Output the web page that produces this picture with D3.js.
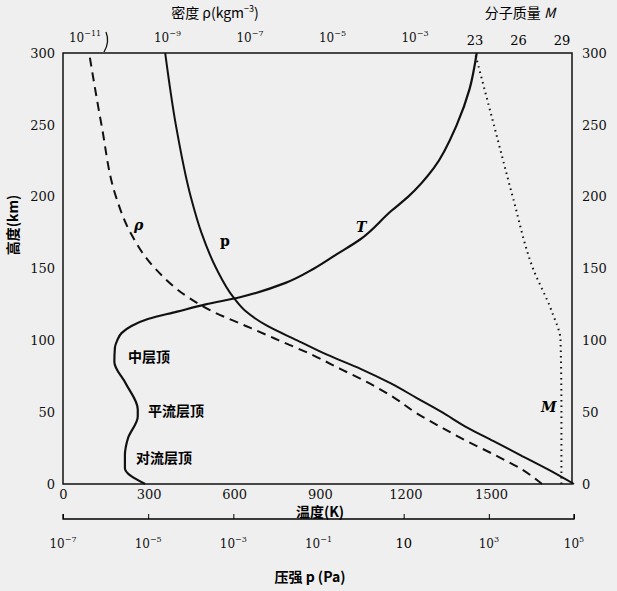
<!DOCTYPE html>
<html><head><meta charset="utf-8">
<script src="https://cdn.jsdelivr.net/npm/d3@7"></script>
<style>body{margin:0;background:#efefef}svg{font-family:"DejaVu Serif","Liberation Serif",serif}</style>
</head><body><svg id="c" width="617" height="591"></svg>
<script>
const altTicks=[0,50,100,150,200,250,300];
const tempTicks=[0,300,600,900,1200,1500];
const presTicks=[-7,-5,-3,-1,1,3,5];
const rhoTicks=[-11,-9,-7,-5,-3];
const mTicks=[23,26,29];
const tempAlt=[0,11,20,32,47,52,70,85,95,100,105,110,115,120,125,130,140,150,160,170,190,200,220,250,275,300];
const tempVal=[288,217,217,228,262,262,220,180,182,190,205,240,300,400,500,620,780,880,960,1040,1150,1210,1300,1380,1425,1450];
const presAlt=[0,10,20,30,40,50,60,70,80,90,100,110,120,130,150,175,200,250,300];
const presLog=[5,4.4,3.75,3.1,2.45,1.9,1.3,0.7,0,-0.8,-1.5,-2.2,-2.7,-3.0,-3.4,-3.75,-4.0,-4.35,-4.6];
const rhoAlt=[0,10,20,30,40,50,60,70,80,90,100,110,120,130,150,175,200,250,300];
const rhoLog=[0.08,-0.4,-1.05,-1.75,-2.4,-3.0,-3.5,-4.1,-4.8,-5.5,-6.3,-7.1,-7.9,-8.5,-9.3,-9.9,-10.25,-10.6,-10.9];
const mAlt=[0,50,100,120,150,200,250,300];
const mVal=[28.96,28.96,28.9,28.3,27,25.6,24.3,23];

const svg=d3.select("#c");
const y=d3.scaleLinear([0,300],[484,53]);
const xT=d3.scaleLinear([0,1500],[63,491]);
const xP=d3.scaleLinear([-7,5],[63,574]);
const xR=d3.scaleLinear([-11,-3],[85,415]);
const xM=d3.scaleLinear([23,29],[475,562]);
const ink="#111";
svg.append("rect").attr("x",63).attr("y",53).attr("width",509).attr("height",431).attr("fill","none").attr("stroke",ink).attr("stroke-width",1.5);
svg.append("g").attr("transform","translate(63,0)").call(d3.axisLeft(y).tickValues(altTicks).tickSize(0).tickPadding(8)).call(g=>g.select(".domain").remove());
svg.append("g").attr("transform","translate(572,0)").call(d3.axisRight(y).tickValues(altTicks).tickSize(0).tickPadding(10)).call(g=>g.select(".domain").remove());
svg.append("g").attr("transform","translate(0,484)").call(d3.axisBottom(xT).tickValues(tempTicks).tickFormat(d3.format("d")).tickSize(0).tickPadding(6)).call(g=>g.select(".domain").remove());
const pg=svg.append("g").attr("transform","translate(0,519)").call(d3.axisTop(xP).tickValues(presTicks).tickSize(5).tickFormat(""));
pg.select(".domain").attr("stroke-width",1.3).attr("d","M63,-5V0H574V-5");
svg.selectAll("g").attr("font-family",null);
svg.selectAll(".tick text").attr("font-size",13).attr("fill",ink);
function supLabel(x,yy,base,exp){
  const t=svg.append("text").attr("x",x).attr("y",yy).attr("text-anchor","middle").attr("font-size",12).attr("fill",ink);
  t.append("tspan").text(base);
  t.append("tspan").attr("dy",-6).attr("font-size",8).text(exp);
}
presTicks.forEach(v=>{
  if(v===1) svg.append("text").attr("x",xP(v)).attr("y",548).attr("text-anchor","middle").attr("font-size",13).text("10");
  else supLabel(xP(v),548,"10",v<0?"−"+(-v):String(v));
});
rhoTicks.forEach(v=>supLabel(xR(v),42,"10","−"+(-v)));
mTicks.forEach(v=>svg.append("text").attr("x",xM(v)).attr("y",45).attr("text-anchor","middle").attr("font-size",13).text(v));
svg.append("path").attr("d","M104,52 Q110,42 106,32").attr("fill","none").attr("stroke",ink).attr("stroke-width",1.3);
const tt=svg.append("text").attr("x",215).attr("y",18).attr("text-anchor","middle").attr("font-size",14).attr("font-family","Noto Sans CJK SC");
tt.append("tspan").text("密度 ρ(kgm");tt.append("tspan").attr("dy",-6).attr("font-size",9).text("−3");tt.append("tspan").attr("dy",6).text(")");
svg.append("text").attr("x",520).attr("y",18).attr("text-anchor","middle").attr("font-size",14).attr("font-family","Noto Sans CJK SC").html('分子质量 <tspan font-style="italic">M</tspan>');
svg.append("text").attr("x",320).attr("y",517).attr("text-anchor","middle").attr("font-size",14).attr("font-weight","bold").attr("font-family","Noto Sans CJK SC").text("温度(K)");
svg.append("text").attr("x",310).attr("y",582).attr("text-anchor","middle").attr("font-size",14).attr("font-weight","bold").attr("font-family","Noto Sans CJK SC").text("压强 p (Pa)");
svg.append("text").attr("transform","translate(18,225) rotate(-90)").attr("text-anchor","middle").attr("font-size",14).attr("font-weight","bold").attr("font-family","Noto Sans CJK SC").text("高度(km)");
const line=(xs,ys,fx)=>d3.line().x((d,i)=>fx(xs[i])).y((d,i)=>y(ys[i])).curve(d3.curveMonotoneY)(xs);
svg.append("path").attr("d",line(tempVal,tempAlt,xT)).attr("fill","none").attr("stroke",ink).attr("stroke-width",2.2);
svg.append("path").attr("d",line(presLog,presAlt,xP)).attr("fill","none").attr("stroke",ink).attr("stroke-width",2);
svg.append("path").attr("d",line(rhoLog,rhoAlt,xR)).attr("fill","none").attr("stroke",ink).attr("stroke-width",2).attr("stroke-dasharray","9,6");
svg.append("path").attr("d",line(mVal,mAlt,xM)).attr("fill","none").attr("stroke",ink).attr("stroke-width",2).attr("stroke-dasharray","1.5,4");
const ann=(t,x,yy,opt={})=>svg.append("text").attr("x",x).attr("y",yy).attr("font-size",opt.s||14).attr("font-style",opt.i?"italic":null).attr("font-family",opt.f||"Noto Sans CJK SC").attr("font-weight","bold").text(t);
ann("中层顶",128,362);ann("平流层顶",148,416);ann("对流层顶",136,463);
ann("T",356,232,{i:1,f:"DejaVu Serif"});ann("p",220,246,{f:"DejaVu Serif"});ann("ρ",134,230,{i:1,f:"DejaVu Serif"});ann("M",541,412,{i:1,f:"DejaVu Serif"});
</script></body></html>
